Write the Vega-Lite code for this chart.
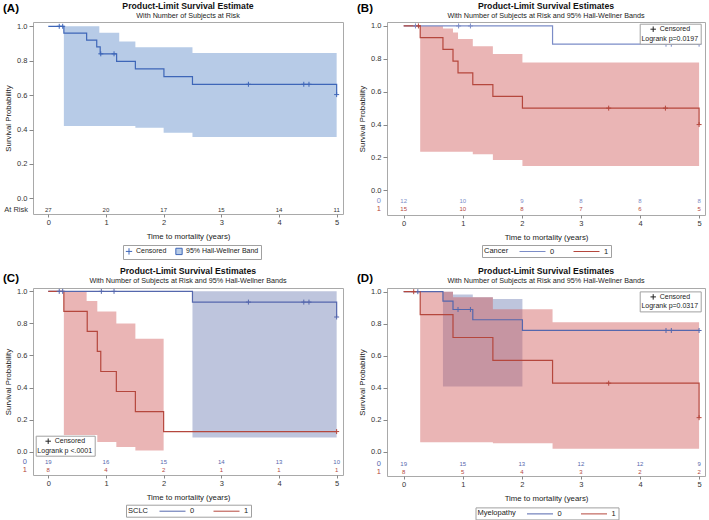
{
"$schema": "https://vega.github.io/schema/vega-lite/v6.json",
"background": "white",
"padding": {"left": 2, "top": 1, "right": 0, "bottom": 0},
"config": {
  "font": "Liberation Sans",
  "view": {"stroke": "#a9a9a9", "strokeWidth": 1},
  "axis": {"domain": false, "grid": false, "tickSize": 4, "tickColor": "#888", "labelFontSize": 7.5, "labelColor": "#333", "titleFontSize": 7.8, "titleFontWeight": "normal", "titleColor": "#222", "labelPadding": 2, "titlePadding": 4},
  "axisX": {"tickSize": 3, "labelPadding": 1.5, "titlePadding": 6},
  "title": {"fontSize": 8.7, "fontWeight": "bold", "subtitleFontSize": 7.2, "anchor": "middle", "frame": "group", "subtitlePadding": 1.5, "color": "#111", "subtitleColor": "#222"},
  "legend": {"labelFontSize": 7, "titleFontSize": 7.5, "titleFontWeight": "normal", "labelColor": "#222", "titleColor": "#222", "strokeColor": "#a0a0a0", "fillColor": "white", "padding": 2}
},
"datasets": {
  "A_curve": [{"t":0,"s":1},{"t":0.27,"s":0.96},{"t":0.665,"s":0.92},{"t":0.84,"s":0.88},{"t":0.9,"s":0.84},{"t":1.185,"s":0.796},{"t":1.51,"s":0.752},{"t":2.005,"s":0.708},{"t":2.5,"s":0.663},{"t":5,"s":0.663},{"t":5,"s":0.603}],
  "A_cens": [{"t":0.19,"s":1,"k":"Censored"},{"t":0.25,"s":1,"k":"Censored"},{"t":0.91,"s":0.84,"k":"Censored"},{"t":1.14,"s":0.84,"k":"Censored"},{"t":3.47,"s":0.663,"k":"Censored"},{"t":4.43,"s":0.663,"k":"Censored"},{"t":4.52,"s":0.663,"k":"Censored"},{"t":5,"s":0.603,"k":"Censored"}],
  "A_band": [{"t":0.27,"lo":0.42,"hi":1.0},{"t":0.885,"lo":0.42,"hi":0.963},{"t":1.23,"lo":0.42,"hi":0.912},{"t":1.51,"lo":0.41,"hi":0.878},{"t":2.0,"lo":0.381,"hi":0.878},{"t":2.5,"lo":0.356,"hi":0.845},{"t":5,"lo":0.356,"hi":0.845}],
  "A_risk": [{"t":0,"n":27},{"t":1,"n":20},{"t":2,"n":17},{"t":3,"n":15},{"t":4,"n":14},{"t":5,"n":11}],
  "B_curve": [{"t":0,"s":1,"g":"0"},{"t":2.52,"s":0.889,"g":"0"},{"t":5,"s":0.889,"g":"0"},
    {"t":0,"s":1,"g":"1"},{"t":0.28,"s":0.929,"g":"1"},{"t":0.665,"s":0.857,"g":"1"},{"t":0.835,"s":0.786,"g":"1"},{"t":0.92,"s":0.714,"g":"1"},{"t":1.17,"s":0.643,"g":"1"},{"t":1.51,"s":0.571,"g":"1"},{"t":2.01,"s":0.5,"g":"1"},{"t":5,"s":0.5,"g":"1"},{"t":5,"s":0.4,"g":"1"}],
  "B_cens": [{"t":0.2,"s":1,"g":"0","k":"Censored"},{"t":0.93,"s":1,"g":"0","k":"Censored"},{"t":1.13,"s":1,"g":"0","k":"Censored"},{"t":4.44,"s":0.889,"g":"0","k":"Censored"},{"t":4.53,"s":0.889,"g":"0","k":"Censored"},{"t":5,"s":0.889,"g":"0","k":"Censored"},
    {"t":0.25,"s":1,"g":"1","k":"Censored"},{"t":3.47,"s":0.5,"g":"1","k":"Censored"},{"t":4.43,"s":0.5,"g":"1","k":"Censored"},{"t":5,"s":0.4,"g":"1","k":"Censored"}],
  "B_band": [{"t":0.28,"lo":0.235,"hi":1.0,"g":"1"},{"t":0.665,"lo":0.235,"hi":0.985,"g":"1"},{"t":0.835,"lo":0.235,"hi":0.96,"g":"1"},{"t":0.92,"lo":0.235,"hi":0.92,"g":"1"},{"t":1.17,"lo":0.22,"hi":0.876,"g":"1"},{"t":1.51,"lo":0.185,"hi":0.829,"g":"1"},{"t":2.01,"lo":0.148,"hi":0.778,"g":"1"},{"t":5,"lo":0.148,"hi":0.778,"g":"1"}],
  "B_risk": [{"t":0,"n":12,"g":"0"},{"t":1,"n":10,"g":"0"},{"t":2,"n":9,"g":"0"},{"t":3,"n":8,"g":"0"},{"t":4,"n":8,"g":"0"},{"t":5,"n":8,"g":"0"},
    {"t":0,"n":15,"g":"1"},{"t":1,"n":10,"g":"1"},{"t":2,"n":8,"g":"1"},{"t":3,"n":7,"g":"1"},{"t":4,"n":6,"g":"1"},{"t":5,"n":5,"g":"1"}],
  "C_curve": [{"t":0,"s":1,"g":"0"},{"t":2.5,"s":0.933,"g":"0"},{"t":5,"s":0.933,"g":"0"},{"t":5,"s":0.84,"g":"0"},
    {"t":0,"s":1,"g":"1"},{"t":0.27,"s":0.875,"g":"1"},{"t":0.675,"s":0.75,"g":"1"},{"t":0.85,"s":0.625,"g":"1"},{"t":0.91,"s":0.5,"g":"1"},{"t":1.18,"s":0.375,"g":"1"},{"t":1.51,"s":0.25,"g":"1"},{"t":2.0,"s":0.125,"g":"1"},{"t":5,"s":0.125,"g":"1"}],
  "C_cens": [{"t":0.19,"s":1,"g":"0","k":"Censored"},{"t":0.25,"s":1,"g":"0","k":"Censored"},{"t":0.92,"s":1,"g":"0","k":"Censored"},{"t":1.14,"s":1,"g":"0","k":"Censored"},{"t":3.47,"s":0.933,"g":"0","k":"Censored"},{"t":4.43,"s":0.933,"g":"0","k":"Censored"},{"t":4.52,"s":0.933,"g":"0","k":"Censored"},{"t":5,"s":0.84,"g":"0","k":"Censored"},
    {"t":5,"s":0.125,"g":"1","k":"Censored"}],
  "C_band": [{"t":2.5,"lo":0.0875,"hi":1.0,"g":"0"},{"t":5,"lo":0.0875,"hi":1.0,"g":"0"},
    {"t":0.27,"lo":0.104,"hi":1.0,"g":"1"},{"t":0.665,"lo":0.104,"hi":0.94,"g":"1"},{"t":0.85,"lo":0.06,"hi":0.875,"g":"1"},{"t":1.18,"lo":0.028,"hi":0.8,"g":"1"},{"t":1.51,"lo":0.007,"hi":0.705,"g":"1"},{"t":2.0,"lo":0.007,"hi":0.705,"g":"1"}],
  "C_risk": [{"t":0,"n":19,"g":"0"},{"t":1,"n":16,"g":"0"},{"t":2,"n":15,"g":"0"},{"t":3,"n":14,"g":"0"},{"t":4,"n":13,"g":"0"},{"t":5,"n":10,"g":"0"},
    {"t":0,"n":8,"g":"1"},{"t":1,"n":4,"g":"1"},{"t":2,"n":2,"g":"1"},{"t":3,"n":1,"g":"1"},{"t":4,"n":1,"g":"1"},{"t":5,"n":1,"g":"1"}],
  "D_curve": [{"t":0,"s":1,"g":"0"},{"t":0.665,"s":0.941,"g":"0"},{"t":0.835,"s":0.889,"g":"0"},{"t":1.17,"s":0.825,"g":"0"},{"t":2.01,"s":0.758,"g":"0"},{"t":5,"s":0.758,"g":"0"},
    {"t":0,"s":1,"g":"1"},{"t":0.28,"s":0.857,"g":"1"},{"t":0.835,"s":0.714,"g":"1"},{"t":1.51,"s":0.571,"g":"1"},{"t":2.52,"s":0.429,"g":"1"},{"t":5,"s":0.429,"g":"1"},{"t":5,"s":0.214,"g":"1"}],
  "D_cens": [{"t":0.24,"s":1,"g":"0","k":"Censored"},{"t":0.92,"s":0.889,"g":"0","k":"Censored"},{"t":1.13,"s":0.889,"g":"0","k":"Censored"},{"t":4.44,"s":0.758,"g":"0","k":"Censored"},{"t":4.53,"s":0.758,"g":"0","k":"Censored"},{"t":5,"s":0.758,"g":"0","k":"Censored"},
    {"t":0.17,"s":1,"g":"1","k":"Censored"},{"t":3.47,"s":0.429,"g":"1","k":"Censored"},{"t":5,"s":0.214,"g":"1","k":"Censored"}],
  "D_band": [{"t":0.665,"lo":0.408,"hi":1.0,"g":"0"},{"t":0.835,"lo":0.408,"hi":0.983,"g":"0"},{"t":1.17,"lo":0.408,"hi":0.965,"g":"0"},{"t":1.51,"lo":0.408,"hi":0.954,"g":"0"},{"t":2.01,"lo":0.408,"hi":0.954,"g":"0"},
    {"t":0.28,"lo":0.06,"hi":1.0,"g":"1"},{"t":0.835,"lo":0.06,"hi":0.965,"g":"1"},{"t":1.51,"lo":0.054,"hi":0.89,"g":"1"},{"t":2.52,"lo":0.02,"hi":0.81,"g":"1"},{"t":5,"lo":0.02,"hi":0.81,"g":"1"}],
  "D_risk": [{"t":0,"n":19,"g":"0"},{"t":1,"n":15,"g":"0"},{"t":2,"n":13,"g":"0"},{"t":3,"n":12,"g":"0"},{"t":4,"n":12,"g":"0"},{"t":5,"n":9,"g":"0"},
    {"t":0,"n":8,"g":"1"},{"t":1,"n":5,"g":"1"},{"t":2,"n":4,"g":"1"},{"t":3,"n":3,"g":"1"},{"t":4,"n":2,"g":"1"},{"t":5,"n":2,"g":"1"}]
},
"columns": 2,
"bounds": "flush",
"align": "each",
"spacing": {"row": 73, "column": 44},
"resolve": {"scale": {"color": "independent", "shape": "independent"}, "legend": {"color": "independent", "shape": "independent"}},
"concat": [
 {
  "width": 310, "height": 192,
  "title": {"text": "Product-Limit Survival Estimate", "subtitle": "With Number of Subjects at Risk", "offset": -16},
  "layer": [
   {"data": {"name": "A_band"}, "mark": {"type": "area", "interpolate": "step-after", "color": "#b7cbe7"},
    "encoding": {
      "x": {"field": "t", "type": "quantitative", "scale": {"domain": [-0.265, 5.11], "nice": false, "zero": false}, "axis": {"values": [0,1,2,3,4,5], "format": "d", "title": "Time to mortality (years)"}},
      "y": {"field": "lo", "type": "quantitative", "scale": {"domain": [-0.091, 1.025], "nice": false, "zero": false}, "axis": {"values": [0,0.2,0.4,0.6,0.8,1], "format": ".1f", "title": "Survival Probability"}}, "y2": {"field": "hi"}}},
   {"data": {"name": "A_curve"}, "mark": {"type": "line", "interpolate": "step-after", "color": "#3e66b8", "strokeWidth": 1.2},
    "encoding": {
      "x": {"field": "t", "type": "quantitative", "scale": {"domain": [-0.265, 5.11], "nice": false, "zero": false}, "axis": {"values": [0,1,2,3,4,5], "format": "d", "title": "Time to mortality (years)"}},
      "y": {"field": "s", "type": "quantitative", "scale": {"domain": [-0.091, 1.025], "nice": false, "zero": false}, "axis": {"values": [0,0.2,0.4,0.6,0.8,1], "format": ".1f", "title": "Survival Probability"}}}},
   {"data": {"name": "A_cens"}, "mark": {"type": "point", "filled": true, "stroke": "#3e66b8", "strokeWidth": 1, "size": 25, "opacity": 1},
    "encoding": {
      "x": {"field": "t", "type": "quantitative", "scale": {"domain": [-0.265, 5.11], "nice": false, "zero": false}, "axis": {"values": [0,1,2,3,4,5], "format": "d", "title": "Time to mortality (years)"}},
      "y": {"field": "s", "type": "quantitative", "scale": {"domain": [-0.091, 1.025], "nice": false, "zero": false}, "axis": {"values": [0,0.2,0.4,0.6,0.8,1], "format": ".1f", "title": "Survival Probability"}},
      "shape": {"field": "k", "type": "nominal", "scale": {"domain": ["Censored", "95% Hall-Wellner Band"], "range": ["M0,-1V1M-1,0H1", "square"]},
        "legend": {"title": null, "orient": "none", "legendX": 90, "legendY": 223, "direction": "horizontal", "symbolSize": 40, "symbolStrokeColor": "#3e66b8", "symbolStrokeWidth": 1, "columnPadding": 6, "labelOffset": 3}},
      "color": {"field": "k", "type": "nominal", "scale": {"domain": ["Censored", "95% Hall-Wellner Band"], "range": ["#3e66b8", "#b7cbe7"]},
        "legend": {"title": null, "orient": "none", "legendX": 90, "legendY": 223, "direction": "horizontal", "symbolSize": 40, "symbolStrokeColor": "#3e66b8", "symbolStrokeWidth": 1, "columnPadding": 6, "labelOffset": 3}}}},
   {"data": {"name": "A_risk"}, "mark": {"type": "text", "fontSize": 6, "color": "#333"},
    "encoding": {
      "x": {"field": "t", "type": "quantitative", "scale": {"domain": [-0.265, 5.11], "nice": false, "zero": false}, "axis": {"values": [0,1,2,3,4,5], "format": "d", "title": "Time to mortality (years)"}},
      "y": {"datum": -0.068, "type": "quantitative", "scale": {"domain": [-0.091, 1.025], "nice": false, "zero": false}, "axis": {"values": [0,0.2,0.4,0.6,0.8,1], "format": ".1f", "title": "Survival Probability"}},
      "text": {"field": "n", "type": "quantitative"}}},
   {"data": {"values": [{"lab": "At Risk", "u": "(A)"}]}, "mark": {"type": "text", "align": "right", "dx": -5, "fontSize": 7.5, "color": "#333"},
    "encoding": {
      "x": {"datum": -0.265, "type": "quantitative", "scale": {"domain": [-0.265, 5.11], "nice": false, "zero": false}, "axis": {"values": [0,1,2,3,4,5], "format": "d", "title": "Time to mortality (years)"}},
      "y": {"datum": -0.068, "type": "quantitative", "scale": {"domain": [-0.091, 1.025], "nice": false, "zero": false}, "axis": {"values": [0,0.2,0.4,0.6,0.8,1], "format": ".1f", "title": "Survival Probability"}},
      "text": {"field": "lab", "type": "nominal"}}},
   {"data": {"values": [{"lab": "At Risk", "u": "(A)"}]}, "mark": {"type": "text", "align": "left", "baseline": "alphabetic", "dx": -30, "dy": -10, "fontSize": 11.5, "fontWeight": "bold", "color": "#000"},
    "encoding": {
      "x": {"datum": -0.265, "type": "quantitative", "scale": {"domain": [-0.265, 5.11], "nice": false, "zero": false}, "axis": {"values": [0,1,2,3,4,5], "format": "d", "title": "Time to mortality (years)"}},
      "y": {"datum": 1.025, "type": "quantitative", "scale": {"domain": [-0.091, 1.025], "nice": false, "zero": false}, "axis": {"values": [0,0.2,0.4,0.6,0.8,1], "format": ".1f", "title": "Survival Probability"}},
      "text": {"field": "u", "type": "nominal"}}}
  ]
 },
 {
  "width": 318, "height": 193,
  "title": {"text": "Product-Limit Survival Estimates", "subtitle": "With Number of Subjects at Risk and 95% Hall-Wellner Bands", "offset": -16},
  "layer": [
   {"data": {"name": "B_band"}, "mark": {"type": "area", "interpolate": "step-after", "opacity": 0.45},
    "encoding": {
      "x": {"field": "t", "type": "quantitative", "scale": {"domain": [-0.282, 5.1], "nice": false, "zero": false}, "axis": {"values": [0,1,2,3,4,5], "format": "d", "title": "Time to mortality (years)"}},
      "y": {"field": "lo", "type": "quantitative", "scale": {"domain": [-0.15, 1.024], "nice": false, "zero": false}, "axis": {"values": [0,0.2,0.4,0.6,0.8,1], "format": ".1f", "title": "Survival Probability"}}, "y2": {"field": "hi"},
      "detail": {"field": "g", "type": "nominal"},
      "fill": {"condition": {"test": "datum.g == '0'", "value": "#6F7EB3"}, "value": "#D05B5B"}}},
   {"data": {"name": "B_curve"}, "mark": {"type": "line", "interpolate": "step-after", "strokeWidth": 1.2},
    "encoding": {
      "x": {"field": "t", "type": "quantitative", "scale": {"domain": [-0.282, 5.1], "nice": false, "zero": false}, "axis": {"values": [0,1,2,3,4,5], "format": "d", "title": "Time to mortality (years)"}},
      "y": {"field": "s", "type": "quantitative", "scale": {"domain": [-0.15, 1.024], "nice": false, "zero": false}, "axis": {"values": [0,0.2,0.4,0.6,0.8,1], "format": ".1f", "title": "Survival Probability"}},
      "color": {"field": "g", "type": "nominal", "scale": {"domain": ["0","1"], "range": ["#7b8cc7","#b5473d"]},
        "legend": {"title": "Cancer", "orient": "none", "legendX": 95, "legendY": 223, "direction": "horizontal", "titleOrient": "left", "symbolType": "M-3.25,0H3.25", "symbolSize": 64, "symbolStrokeWidth": 1, "titlePadding": 19, "labelOffset": 13, "columnPadding": 16, "labelFontSize": 7.5}}}},
   {"data": {"name": "B_cens"}, "mark": {"type": "point", "filled": false, "size": 25, "strokeWidth": 1, "opacity": 1},
    "encoding": {
      "x": {"field": "t", "type": "quantitative", "scale": {"domain": [-0.282, 5.1], "nice": false, "zero": false}, "axis": {"values": [0,1,2,3,4,5], "format": "d", "title": "Time to mortality (years)"}},
      "y": {"field": "s", "type": "quantitative", "scale": {"domain": [-0.15, 1.024], "nice": false, "zero": false}, "axis": {"values": [0,0.2,0.4,0.6,0.8,1], "format": ".1f", "title": "Survival Probability"}},
      "color": {"condition": {"test": "datum.g == '0'", "value": "#7b8cc7"}, "value": "#b5473d"},
      "shape": {"field": "k", "type": "nominal", "scale": {"domain": ["Censored"], "range": ["M0,-1V1M-1,0H1"]},
        "legend": {"orient": "none", "legendX": 252.7, "legendY": 1.7, "title": "Logrank p=0.0197", "titleOrient": "bottom", "titleAnchor": "middle", "titleFontSize": 7, "titlePadding": 1, "symbolStrokeColor": "#222", "symbolSize": 30, "symbolStrokeWidth": 1, "labelOffset": 3, "padding": 2}}}},
   {"data": {"name": "B_risk"}, "transform": [{"filter": "datum.g == '0'"}], "mark": {"type": "text", "fontSize": 6, "color": "#7b8cc7"},
    "encoding": {
      "x": {"field": "t", "type": "quantitative", "scale": {"domain": [-0.282, 5.1], "nice": false, "zero": false}, "axis": {"values": [0,1,2,3,4,5], "format": "d", "title": "Time to mortality (years)"}},
      "y": {"datum": -0.065, "type": "quantitative", "scale": {"domain": [-0.15, 1.024], "nice": false, "zero": false}, "axis": {"values": [0,0.2,0.4,0.6,0.8,1], "format": ".1f", "title": "Survival Probability"}},
      "text": {"field": "n", "type": "quantitative"}}},
   {"data": {"name": "B_risk"}, "transform": [{"filter": "datum.g == '1'"}], "mark": {"type": "text", "fontSize": 6, "color": "#b5473d"},
    "encoding": {
      "x": {"field": "t", "type": "quantitative", "scale": {"domain": [-0.282, 5.1], "nice": false, "zero": false}, "axis": {"values": [0,1,2,3,4,5], "format": "d", "title": "Time to mortality (years)"}},
      "y": {"datum": -0.116, "type": "quantitative", "scale": {"domain": [-0.15, 1.024], "nice": false, "zero": false}, "axis": {"values": [0,0.2,0.4,0.6,0.8,1], "format": ".1f", "title": "Survival Probability"}},
      "text": {"field": "n", "type": "quantitative"}}},
   {"data": {"values": [{"lab": "0"}]}, "mark": {"type": "text", "align": "right", "dx": -6, "fontSize": 7.5, "color": "#7b8cc7"},
    "encoding": {
      "x": {"datum": -0.282, "type": "quantitative", "scale": {"domain": [-0.282, 5.1], "nice": false, "zero": false}, "axis": {"values": [0,1,2,3,4,5], "format": "d", "title": "Time to mortality (years)"}},
      "y": {"datum": -0.065, "type": "quantitative", "scale": {"domain": [-0.15, 1.024], "nice": false, "zero": false}, "axis": {"values": [0,0.2,0.4,0.6,0.8,1], "format": ".1f", "title": "Survival Probability"}},
      "text": {"field": "lab", "type": "nominal"}}},
   {"data": {"values": [{"lab": "1"}]}, "mark": {"type": "text", "align": "right", "dx": -6, "fontSize": 7.5, "color": "#b5473d"},
    "encoding": {
      "x": {"datum": -0.282, "type": "quantitative", "scale": {"domain": [-0.282, 5.1], "nice": false, "zero": false}, "axis": {"values": [0,1,2,3,4,5], "format": "d", "title": "Time to mortality (years)"}},
      "y": {"datum": -0.116, "type": "quantitative", "scale": {"domain": [-0.15, 1.024], "nice": false, "zero": false}, "axis": {"values": [0,0.2,0.4,0.6,0.8,1], "format": ".1f", "title": "Survival Probability"}},
      "text": {"field": "lab", "type": "nominal"}}},
   {"data": {"values": [{"lab": "(B)"}]}, "mark": {"type": "text", "align": "left", "baseline": "alphabetic", "dx": -30, "dy": -10, "fontSize": 11.5, "fontWeight": "bold", "color": "#000"},
    "encoding": {
      "x": {"datum": -0.282, "type": "quantitative", "scale": {"domain": [-0.282, 5.1], "nice": false, "zero": false}, "axis": {"values": [0,1,2,3,4,5], "format": "d", "title": "Time to mortality (years)"}},
      "y": {"datum": 1.024, "type": "quantitative", "scale": {"domain": [-0.15, 1.024], "nice": false, "zero": false}, "axis": {"values": [0,0.2,0.4,0.6,0.8,1], "format": ".1f", "title": "Survival Probability"}},
      "text": {"field": "lab", "type": "nominal"}}}
  ]
 },
 {
  "width": 310, "height": 187,
  "title": {"text": "Product-Limit Survival Estimates", "subtitle": "With Number of Subjects at Risk and 95% Hall-Wellner Bands", "offset": -12},
  "layer": [
   {"data": {"name": "C_band"}, "mark": {"type": "area", "interpolate": "step-after", "opacity": 0.45},
    "encoding": {
      "x": {"field": "t", "type": "quantitative", "scale": {"domain": [-0.265, 5.11], "nice": false, "zero": false}, "axis": {"values": [0,1,2,3,4,5], "format": "d", "title": "Time to mortality (years)"}},
      "y": {"field": "lo", "type": "quantitative", "scale": {"domain": [-0.146, 1.021], "nice": false, "zero": false}, "axis": {"values": [0,0.2,0.4,0.6,0.8,1], "format": ".1f", "title": "Survival Probability"}}, "y2": {"field": "hi"},
      "detail": {"field": "g", "type": "nominal"},
      "fill": {"condition": {"test": "datum.g == '0'", "value": "#6F7EB3"}, "value": "#D05B5B"}}},
   {"data": {"name": "C_curve"}, "mark": {"type": "line", "interpolate": "step-after", "strokeWidth": 1.2},
    "encoding": {
      "x": {"field": "t", "type": "quantitative", "scale": {"domain": [-0.265, 5.11], "nice": false, "zero": false}, "axis": {"values": [0,1,2,3,4,5], "format": "d", "title": "Time to mortality (years)"}},
      "y": {"field": "s", "type": "quantitative", "scale": {"domain": [-0.146, 1.021], "nice": false, "zero": false}, "axis": {"values": [0,0.2,0.4,0.6,0.8,1], "format": ".1f", "title": "Survival Probability"}},
      "color": {"field": "g", "type": "nominal", "scale": {"domain": ["0","1"], "range": ["#5567ad","#b5473d"]},
        "legend": {"title": "SCLC", "orient": "none", "legendX": 93, "legendY": 216.7, "direction": "horizontal", "titleOrient": "left", "symbolType": "M-3.25,0H3.25", "symbolSize": 64, "symbolStrokeWidth": 1, "titlePadding": 19, "labelOffset": 13, "columnPadding": 16, "labelFontSize": 7.5}}}},
   {"data": {"name": "C_cens"}, "mark": {"type": "point", "filled": false, "size": 25, "strokeWidth": 1, "opacity": 1},
    "encoding": {
      "x": {"field": "t", "type": "quantitative", "scale": {"domain": [-0.265, 5.11], "nice": false, "zero": false}, "axis": {"values": [0,1,2,3,4,5], "format": "d", "title": "Time to mortality (years)"}},
      "y": {"field": "s", "type": "quantitative", "scale": {"domain": [-0.146, 1.021], "nice": false, "zero": false}, "axis": {"values": [0,0.2,0.4,0.6,0.8,1], "format": ".1f", "title": "Survival Probability"}},
      "color": {"condition": {"test": "datum.g == '0'", "value": "#5567ad"}, "value": "#b5473d"},
      "shape": {"field": "k", "type": "nominal", "scale": {"domain": ["Censored"], "range": ["M0,-1V1M-1,0H1"]},
        "legend": {"orient": "none", "legendX": 2.7, "legendY": 147.7, "title": "Logrank p <.0001", "titleOrient": "bottom", "titleAnchor": "middle", "titleFontSize": 7, "titlePadding": 1, "symbolStrokeColor": "#222", "symbolSize": 30, "symbolStrokeWidth": 1, "labelOffset": 3, "padding": 2}}}},
   {"data": {"name": "C_risk"}, "transform": [{"filter": "datum.g == '0'"}], "mark": {"type": "text", "fontSize": 6, "color": "#5567ad"},
    "encoding": {
      "x": {"field": "t", "type": "quantitative", "scale": {"domain": [-0.265, 5.11], "nice": false, "zero": false}, "axis": {"values": [0,1,2,3,4,5], "format": "d", "title": "Time to mortality (years)"}},
      "y": {"datum": -0.064, "type": "quantitative", "scale": {"domain": [-0.146, 1.021], "nice": false, "zero": false}, "axis": {"values": [0,0.2,0.4,0.6,0.8,1], "format": ".1f", "title": "Survival Probability"}},
      "text": {"field": "n", "type": "quantitative"}}},
   {"data": {"name": "C_risk"}, "transform": [{"filter": "datum.g == '1'"}], "mark": {"type": "text", "fontSize": 6, "color": "#b5473d"},
    "encoding": {
      "x": {"field": "t", "type": "quantitative", "scale": {"domain": [-0.265, 5.11], "nice": false, "zero": false}, "axis": {"values": [0,1,2,3,4,5], "format": "d", "title": "Time to mortality (years)"}},
      "y": {"datum": -0.116, "type": "quantitative", "scale": {"domain": [-0.146, 1.021], "nice": false, "zero": false}, "axis": {"values": [0,0.2,0.4,0.6,0.8,1], "format": ".1f", "title": "Survival Probability"}},
      "text": {"field": "n", "type": "quantitative"}}},
   {"data": {"values": [{"lab": "0"}]}, "mark": {"type": "text", "align": "right", "dx": -6, "fontSize": 7.5, "color": "#5567ad"},
    "encoding": {
      "x": {"datum": -0.265, "type": "quantitative", "scale": {"domain": [-0.265, 5.11], "nice": false, "zero": false}, "axis": {"values": [0,1,2,3,4,5], "format": "d", "title": "Time to mortality (years)"}},
      "y": {"datum": -0.064, "type": "quantitative", "scale": {"domain": [-0.146, 1.021], "nice": false, "zero": false}, "axis": {"values": [0,0.2,0.4,0.6,0.8,1], "format": ".1f", "title": "Survival Probability"}},
      "text": {"field": "lab", "type": "nominal"}}},
   {"data": {"values": [{"lab": "1"}]}, "mark": {"type": "text", "align": "right", "dx": -6, "fontSize": 7.5, "color": "#b5473d"},
    "encoding": {
      "x": {"datum": -0.265, "type": "quantitative", "scale": {"domain": [-0.265, 5.11], "nice": false, "zero": false}, "axis": {"values": [0,1,2,3,4,5], "format": "d", "title": "Time to mortality (years)"}},
      "y": {"datum": -0.116, "type": "quantitative", "scale": {"domain": [-0.146, 1.021], "nice": false, "zero": false}, "axis": {"values": [0,0.2,0.4,0.6,0.8,1], "format": ".1f", "title": "Survival Probability"}},
      "text": {"field": "lab", "type": "nominal"}}},
   {"data": {"values": [{"lab": "(C)"}]}, "mark": {"type": "text", "align": "left", "baseline": "alphabetic", "dx": -30, "dy": -6.5, "fontSize": 11.5, "fontWeight": "bold", "color": "#000"},
    "encoding": {
      "x": {"datum": -0.265, "type": "quantitative", "scale": {"domain": [-0.265, 5.11], "nice": false, "zero": false}, "axis": {"values": [0,1,2,3,4,5], "format": "d", "title": "Time to mortality (years)"}},
      "y": {"datum": 1.021, "type": "quantitative", "scale": {"domain": [-0.146, 1.021], "nice": false, "zero": false}, "axis": {"values": [0,0.2,0.4,0.6,0.8,1], "format": ".1f", "title": "Survival Probability"}},
      "text": {"field": "lab", "type": "nominal"}}}
  ]
 },
 {
  "width": 318, "height": 188,
  "title": {"text": "Product-Limit Survival Estimates", "subtitle": "With Number of Subjects at Risk and 95% Hall-Wellner Bands", "offset": -12},
  "layer": [
   {"data": {"name": "D_band"}, "mark": {"type": "area", "interpolate": "step-after", "opacity": 0.45},
    "encoding": {
      "x": {"field": "t", "type": "quantitative", "scale": {"domain": [-0.282, 5.1], "nice": false, "zero": false}, "axis": {"values": [0,1,2,3,4,5], "format": "d", "title": "Time to mortality (years)"}},
      "y": {"field": "lo", "type": "quantitative", "scale": {"domain": [-0.15, 1.023], "nice": false, "zero": false}, "axis": {"values": [0,0.2,0.4,0.6,0.8,1], "format": ".1f", "title": "Survival Probability"}}, "y2": {"field": "hi"},
      "detail": {"field": "g", "type": "nominal"},
      "fill": {"condition": {"test": "datum.g == '0'", "value": "#6F7EB3"}, "value": "#D05B5B"}}},
   {"data": {"name": "D_curve"}, "mark": {"type": "line", "interpolate": "step-after", "strokeWidth": 1.2},
    "encoding": {
      "x": {"field": "t", "type": "quantitative", "scale": {"domain": [-0.282, 5.1], "nice": false, "zero": false}, "axis": {"values": [0,1,2,3,4,5], "format": "d", "title": "Time to mortality (years)"}},
      "y": {"field": "s", "type": "quantitative", "scale": {"domain": [-0.15, 1.023], "nice": false, "zero": false}, "axis": {"values": [0,0.2,0.4,0.6,0.8,1], "format": ".1f", "title": "Survival Probability"}},
      "color": {"field": "g", "type": "nominal", "scale": {"domain": ["0","1"], "range": ["#5567ad","#b5473d"]},
        "legend": {"title": "Myelopathy", "orient": "none", "legendX": 88.5, "legendY": 219.4, "direction": "horizontal", "titleOrient": "left", "symbolType": "M-3.25,0H3.25", "symbolSize": 64, "symbolStrokeWidth": 1, "titlePadding": 19, "labelOffset": 13, "columnPadding": 16, "labelFontSize": 7.5}}}},
   {"data": {"name": "D_cens"}, "mark": {"type": "point", "filled": false, "size": 25, "strokeWidth": 1, "opacity": 1},
    "encoding": {
      "x": {"field": "t", "type": "quantitative", "scale": {"domain": [-0.282, 5.1], "nice": false, "zero": false}, "axis": {"values": [0,1,2,3,4,5], "format": "d", "title": "Time to mortality (years)"}},
      "y": {"field": "s", "type": "quantitative", "scale": {"domain": [-0.15, 1.023], "nice": false, "zero": false}, "axis": {"values": [0,0.2,0.4,0.6,0.8,1], "format": ".1f", "title": "Survival Probability"}},
      "color": {"condition": {"test": "datum.g == '0'", "value": "#5567ad"}, "value": "#b5473d"},
      "shape": {"field": "k", "type": "nominal", "scale": {"domain": ["Censored"], "range": ["M0,-1V1M-1,0H1"]},
        "legend": {"orient": "none", "legendX": 252.7, "legendY": 3.4, "title": "Logrank p=0.0317", "titleOrient": "bottom", "titleAnchor": "middle", "titleFontSize": 7, "titlePadding": 1, "symbolStrokeColor": "#222", "symbolSize": 30, "symbolStrokeWidth": 1, "labelOffset": 3, "padding": 2}}}},
   {"data": {"name": "D_risk"}, "transform": [{"filter": "datum.g == '0'"}], "mark": {"type": "text", "fontSize": 6, "color": "#5567ad"},
    "encoding": {
      "x": {"field": "t", "type": "quantitative", "scale": {"domain": [-0.282, 5.1], "nice": false, "zero": false}, "axis": {"values": [0,1,2,3,4,5], "format": "d", "title": "Time to mortality (years)"}},
      "y": {"datum": -0.077, "type": "quantitative", "scale": {"domain": [-0.15, 1.023], "nice": false, "zero": false}, "axis": {"values": [0,0.2,0.4,0.6,0.8,1], "format": ".1f", "title": "Survival Probability"}},
      "text": {"field": "n", "type": "quantitative"}}},
   {"data": {"name": "D_risk"}, "transform": [{"filter": "datum.g == '1'"}], "mark": {"type": "text", "fontSize": 6, "color": "#b5473d"},
    "encoding": {
      "x": {"field": "t", "type": "quantitative", "scale": {"domain": [-0.282, 5.1], "nice": false, "zero": false}, "axis": {"values": [0,1,2,3,4,5], "format": "d", "title": "Time to mortality (years)"}},
      "y": {"datum": -0.125, "type": "quantitative", "scale": {"domain": [-0.15, 1.023], "nice": false, "zero": false}, "axis": {"values": [0,0.2,0.4,0.6,0.8,1], "format": ".1f", "title": "Survival Probability"}},
      "text": {"field": "n", "type": "quantitative"}}},
   {"data": {"values": [{"lab": "0"}]}, "mark": {"type": "text", "align": "right", "dx": -6, "fontSize": 7.5, "color": "#5567ad"},
    "encoding": {
      "x": {"datum": -0.282, "type": "quantitative", "scale": {"domain": [-0.282, 5.1], "nice": false, "zero": false}, "axis": {"values": [0,1,2,3,4,5], "format": "d", "title": "Time to mortality (years)"}},
      "y": {"datum": -0.077, "type": "quantitative", "scale": {"domain": [-0.15, 1.023], "nice": false, "zero": false}, "axis": {"values": [0,0.2,0.4,0.6,0.8,1], "format": ".1f", "title": "Survival Probability"}},
      "text": {"field": "lab", "type": "nominal"}}},
   {"data": {"values": [{"lab": "1"}]}, "mark": {"type": "text", "align": "right", "dx": -6, "fontSize": 7.5, "color": "#b5473d"},
    "encoding": {
      "x": {"datum": -0.282, "type": "quantitative", "scale": {"domain": [-0.282, 5.1], "nice": false, "zero": false}, "axis": {"values": [0,1,2,3,4,5], "format": "d", "title": "Time to mortality (years)"}},
      "y": {"datum": -0.125, "type": "quantitative", "scale": {"domain": [-0.15, 1.023], "nice": false, "zero": false}, "axis": {"values": [0,0.2,0.4,0.6,0.8,1], "format": ".1f", "title": "Survival Probability"}},
      "text": {"field": "lab", "type": "nominal"}}},
   {"data": {"values": [{"lab": "(D)"}]}, "mark": {"type": "text", "align": "left", "baseline": "alphabetic", "dx": -30, "dy": -6.5, "fontSize": 11.5, "fontWeight": "bold", "color": "#000"},
    "encoding": {
      "x": {"datum": -0.282, "type": "quantitative", "scale": {"domain": [-0.282, 5.1], "nice": false, "zero": false}, "axis": {"values": [0,1,2,3,4,5], "format": "d", "title": "Time to mortality (years)"}},
      "y": {"datum": 1.023, "type": "quantitative", "scale": {"domain": [-0.15, 1.023], "nice": false, "zero": false}, "axis": {"values": [0,0.2,0.4,0.6,0.8,1], "format": ".1f", "title": "Survival Probability"}},
      "text": {"field": "lab", "type": "nominal"}}}
  ]
 }
]
}
